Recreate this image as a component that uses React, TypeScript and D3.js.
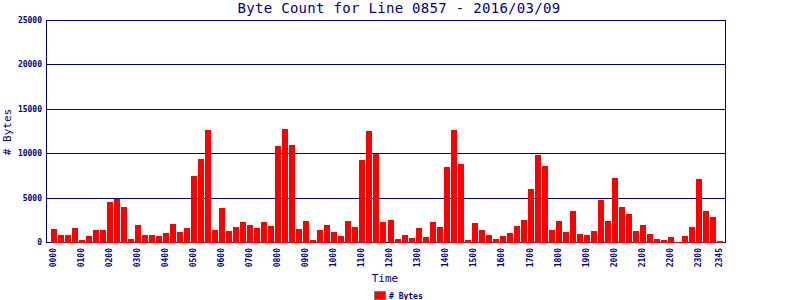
import React from "react";
import * as d3 from "d3";

const TITLE = "Byte Count for Line 0857 - 2016/03/09";
const SERIES_NAME = "# Bytes";
const X_TITLE = "Time";
const Y_TITLE = "# Bytes";

// 15-minute slots from 0000 to 2345
const slots: string[] = d3.range(96).map((i) => {
  const h = Math.floor(i / 4);
  const m = (i % 4) * 15;
  return String(h).padStart(2, "0") + String(m).padStart(2, "0");
});

const bytes: number[] = [
  1480, 810, 810, 1590, 260, 700, 1370, 1370,
  4480, 4850, 3930, 370, 1930, 810, 810, 700,
  1040, 2040, 1150, 1590, 7480, 9370, 12590, 1370,
  3810, 1260, 1700, 2260, 1930, 1590, 2260, 1810,
  10810, 12700, 10930, 1480, 2370, 260, 1370, 1930,
  1150, 700, 2370, 1700, 9260, 12480, 9930, 2260,
  2480, 370, 810, 480, 1590, 590, 2260, 1700,
  8480, 12590, 8810, 260, 2150, 1370, 810, 370,
  700, 1040, 1810, 2480, 5930, 9850, 8590, 1370,
  2370, 1150, 3480, 930, 810, 1260, 4700, 2370,
  7260, 3930, 3150, 1260, 1930, 930, 370, 260,
  590, 0, 700, 1700, 7150, 3480, 2810, 150,
];

const xTickLabels = [
  "0000", "0100", "0200", "0300", "0400", "0500", "0600", "0700",
  "0800", "0900", "1000", "1100", "1200", "1300", "1400", "1500",
  "1600", "1700", "1800", "1900", "2000", "2100", "2200", "2300", "2345",
];
const yTicks = [0, 5000, 10000, 15000, 20000, 25000];

const NAVY = "#000080";
const MONO = "'DejaVu Sans Mono', 'Liberation Mono', monospace";

export default function App() {
  const W = 800, H = 300;
  const plotL = 46, plotR = 725, plotT = 20, plotB = 242;

  const x = d3.scaleBand<string>().domain(slots).range([51, 723]).paddingInner(1 / 7).paddingOuter(0);
  const y = d3.scaleLinear().domain([0, 25000]).range([plotB, plotT]);

  return (
    <svg width={W} height={H} style={{ position: "absolute", left: 0, top: 0, background: "#fff" }}
      fontFamily={MONO}>
      <rect x={0} y={0} width={W} height={H} fill="#fff" />
      <text x={399} y={13} textAnchor="middle" fontSize={14} fill={NAVY} letterSpacing={0.3}>{TITLE}</text>

      {/* grid lines */}
      {yTicks.map((t) => (
        <line key={"g" + t} x1={plotL} x2={plotR} y1={Math.round(y(t)) + 0.5} y2={Math.round(y(t)) + 0.5}
          stroke={NAVY} strokeWidth={1} shapeRendering="crispEdges" />
      ))}
      {/* y labels */}
      {yTicks.map((t) => (
        <text key={"yl" + t} x={42} y={Math.round(y(t)) + 0.5} dy="0.35em" textAnchor="end" fontSize={8}
          fontWeight="bold" fill={NAVY}>{t}</text>
      ))}

      {/* bars */}
      {bytes.map((v, i) => (
        <rect key={"b" + i} x={x(slots[i])} width={x.bandwidth()} y={y(v)} height={plotB + 1 - y(v)}
          fill="#ff0000" shapeRendering="crispEdges" />
      ))}

      {/* frame */}
      <line x1={plotL + 0.5} x2={plotL + 0.5} y1={plotT} y2={plotB + 1} stroke={NAVY} shapeRendering="crispEdges" />
      <line x1={plotR + 0.5} x2={plotR + 0.5} y1={plotT} y2={plotB + 1} stroke={NAVY} shapeRendering="crispEdges" />

      {/* x tick labels */}
      {xTickLabels.map((lab) => {
        const cx = (x(lab) as number) + x.bandwidth() / 2 - 1;
        return (
          <text key={"xl" + lab} transform={`translate(${cx},248) rotate(-90)`} dy="0.35em" textAnchor="end"
            fontSize={8} fontWeight="bold" fill={NAVY}>{lab}</text>
        );
      })}

      <text x={385} y={282} textAnchor="middle" fontSize={11} fill={NAVY}>{X_TITLE}</text>
      <text transform={`translate(11,132) rotate(-90)`} textAnchor="middle" fontSize={11} fill={NAVY}>{Y_TITLE}</text>

      {/* legend */}
      <rect x={374.5} y={291.5} width={11} height={8} fill="#ff0000" stroke="#808080" strokeWidth={1} />
      <text x={389} y={299} fontSize={8} fontWeight="bold" fill={NAVY}>{SERIES_NAME}</text>
    </svg>
  );
}
